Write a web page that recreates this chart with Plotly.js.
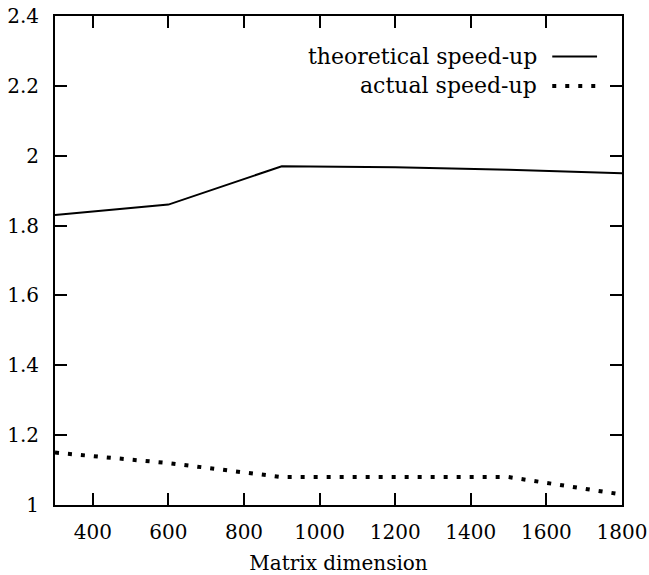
<!DOCTYPE html>
<html>
<head>
<meta charset="utf-8">
<script src="https://cdn.plot.ly/plotly-3.0.1.min.js"></script>
<style>html,body{margin:0;padding:0;background:#fff}#chart{width:649px;height:575px}</style>
</head>
<body>
<div id="chart"></div>
<script>
const matrixDim = [300, 600, 900, 1200, 1500, 1800];
const theoreticalSpeedup = [1.83, 1.86, 1.97, 1.967, 1.96, 1.95];
const actualSpeedup = [1.15, 1.12, 1.08, 1.08, 1.08, 1.03];
const seriesNames = ['theoretical speed-up', 'actual speed-up'];
const xTicks = [400, 600, 800, 1000, 1200, 1400, 1600, 1800];
const yTicks = [1, 1.2, 1.4, 1.6, 1.8, 2, 2.2, 2.4];

const fam = 'DejaVu Serif';
const tickFont = {family: fam, size: 20, color: '#000'};
const titleFont = {family: fam, size: 20, color: '#000'};
const legendFont = {family: fam, size: 22, color: '#000'};

const traces = [
  {x: matrixDim, y: theoreticalSpeedup, name: seriesNames[0], mode: 'lines',
   line: {color: '#000', width: 2}, showlegend: false},
  {x: matrixDim, y: actualSpeedup, name: seriesNames[1], mode: 'lines',
   line: {color: '#000', width: 4, dash: '4px,9px'}, showlegend: false}
];

const axisCommon = {
  showgrid: false, zeroline: false, showline: true, linecolor: '#000', linewidth: 2,
  mirror: 'ticks', ticks: 'inside', ticklen: 12, tickwidth: 2, tickcolor: '#000',
  tickfont: tickFont, ticklabeloverflow: 'allow'
};

const layout = {
  width: 649, height: 575,
  margin: {l: 55, r: 27, t: 16, b: 70},
  paper_bgcolor: '#fff', plot_bgcolor: '#fff',
  font: tickFont,
  xaxis: Object.assign({}, axisCommon, {range: [300, 1800], tickvals: xTicks,
    ticklabelstandoff: 8,
    title: {text: 'Matrix dimension', font: titleFont, standoff: 14}}),
  yaxis: Object.assign({}, axisCommon, {range: [1, 2.4], tickvals: yTicks,
    ticklabelstandoff: 10,
    ticktext: yTicks.map(v => String(v))}),
  annotations: [
    {xref: 'paper', yref: 'paper', x: 0.853, y: 0.917, xanchor: 'right', yanchor: 'middle',
     text: seriesNames[0], showarrow: false, font: legendFont},
    {xref: 'paper', yref: 'paper', x: 0.853, y: 0.857, xanchor: 'right', yanchor: 'middle',
     text: seriesNames[1], showarrow: false, font: legendFont}
  ],
  shapes: [
    {type: 'line', xref: 'paper', yref: 'paper', x0: 0.877, x1: 0.956, y0: 0.917, y1: 0.917,
     line: {color: '#000', width: 2}},
    {type: 'line', xref: 'paper', yref: 'paper', x0: 0.877, x1: 0.956, y0: 0.857, y1: 0.857,
     line: {color: '#000', width: 4, dash: '4px,9px'}}
  ]
};

Plotly.newPlot('chart', traces, layout, {displayModeBar: false});
</script>
</body>
</html>
